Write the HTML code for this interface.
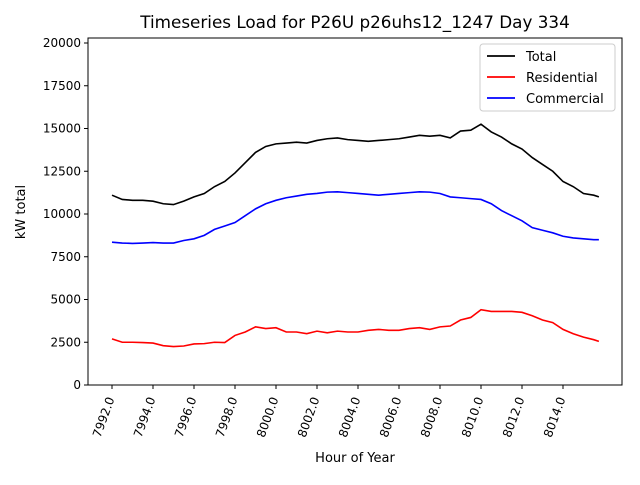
<!DOCTYPE html>
<html><head><meta charset="utf-8"><style>
body{margin:0;background:#fff;font-family:"Liberation Sans","DejaVu Sans",sans-serif}
svg text{font-family:"DejaVu Sans","Liberation Sans",sans-serif;fill:#000}
</style></head><body>
<svg id="c" width="640" height="480"></svg>
<script>
const hours=[7992,7992.5,7993,7993.5,7994,7994.5,7995,7995.5,7996,7996.5,7997,7997.5,7998,7998.5,7999,7999.5,8000,8000.5,8001,8001.5,8002,8002.5,8003,8003.5,8004,8004.5,8005,8005.5,8006,8006.5,8007,8007.5,8008,8008.5,8009,8009.5,8010,8010.5,8011,8011.5,8012,8012.5,8013,8013.5,8014,8014.5,8015,8015.5,8015.75];
const totalVals=[11100,10850,10800,10800,10750,10600,10550,10750,11000,11200,11600,11900,12400,13000,13600,13950,14100,14150,14200,14150,14300,14400,14450,14350,14300,14250,14300,14350,14400,14500,14600,14550,14600,14450,14850,14900,15250,14800,14500,14100,13800,13300,12900,12500,11900,11600,11200,11100,11000];
const residentialVals=[2700,2500,2500,2480,2450,2300,2250,2280,2400,2420,2500,2480,2900,3100,3400,3300,3350,3100,3100,3000,3150,3050,3150,3100,3100,3200,3250,3200,3200,3300,3350,3250,3400,3450,3800,3950,4400,4300,4300,4300,4250,4050,3800,3650,3250,3000,2800,2650,2550];
const commercialVals=[8350,8300,8280,8300,8330,8300,8300,8450,8550,8750,9100,9300,9500,9900,10300,10600,10800,10950,11050,11150,11200,11280,11300,11250,11200,11150,11100,11150,11200,11250,11300,11280,11200,11000,10950,10900,10850,10600,10200,9900,9600,9200,9050,8900,8700,8600,8550,8500,8500];
const xTicks=[7992,7994,7996,7998,8000,8002,8004,8006,8008,8010,8012,8014];
const yTicks=[0,2500,5000,7500,10000,12500,15000,17500,20000];
const L=88,R=622,T=38,B=385;
const sx=v=>112+(v-7992)*20.5;
const sy=v=>385-v*0.0171;
const svg=document.getElementById('c');
const NS='http://www.w3.org/2000/svg';
function mk(tag,attrs,parent){const e=document.createElementNS(NS,tag);for(const k in attrs)e.setAttribute(k,attrs[k]);(parent||svg).appendChild(e);return e;}
let t=mk('text',{x:355,y:28,'font-size':16.8,'text-anchor':'middle'});
t.textContent='Timeseries Load for P26U p26uhs12_1247  Day 334';


const series=[[totalVals,'#000','Total'],[residentialVals,'#f00','Residential'],[commercialVals,'#00f','Commercial']];
series.forEach(s=>{
  const p=mk('polyline',{points:hours.map((h,i)=>sx(h)+','+sy(s[0][i])).join(' '),fill:'none',stroke:s[1],'stroke-width':1.6});
  
  
});
const ax=mk('rect',{x:L,y:T,width:R-L,height:B-T,fill:'none',stroke:'#000','stroke-width':1});


xTicks.forEach(v=>{
  const x=sx(v);
  mk('line',{x1:x,x2:x,y1:B,y2:B+4,stroke:'#000'});
  const l=mk('text',{x:x,y:B+10,'font-size':12,'text-anchor':'end',transform:`rotate(-70 ${x+4} ${B+10})`});
  l.textContent=v.toFixed(1);
  
  
});
yTicks.forEach(v=>{
  const y=sy(v);
  mk('line',{x1:L-4,x2:L,y1:y,y2:y,stroke:'#000'});
  const l=mk('text',{x:L-7,y:y+4,'font-size':12,'text-anchor':'end'});
  l.textContent=v;
  
  
});
t=mk('text',{x:355,y:462,'font-size':13,'text-anchor':'middle'});t.textContent='Hour of Year';


t=mk('text',{x:25,y:212,'font-size':13,'text-anchor':'middle',transform:'rotate(-90 25 212)'});t.textContent='kW total';


const lg=mk('g',{});


mk('rect',{x:480,y:44,width:135,height:67,rx:3,fill:'#fff',stroke:'#ccc'},lg);
series.forEach((s,i)=>{
  const y=56+i*21;
  mk('line',{x1:487,x2:515,y1:y,y2:y,stroke:s[1],'stroke-width':1.8},lg);
  const e=mk('text',{x:526,y:y+5,'font-size':13},lg);e.textContent=s[2];
  
  
});
</script>
</body></html>
